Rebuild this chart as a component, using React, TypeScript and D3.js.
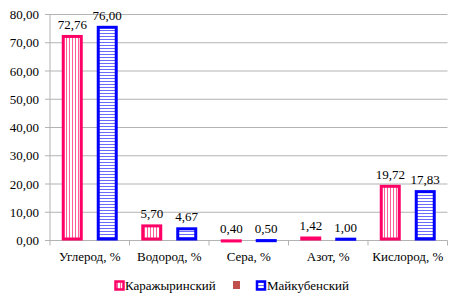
import React from "react";
import * as d3 from "d3";

const categories = ["Углерод, %", "Водород, %", "Сера, %", "Азот, %", "Кислород, %"];
const karazhyra = [72.76, 5.7, 0.4, 1.42, 19.72];
const maikuben = [76.0, 4.67, 0.5, 1.0, 17.83];
const yTicks = [0, 10, 20, 30, 40, 50, 60, 70, 80];
const seriesNames = ["Каражыринский", "", "Майкубенский"];

const W = 463, H = 304;
const left = 50, right = 447.5, top = 14.5, bottom = 240.5;
const font = "Liberation Serif";
const fmt = (v: number) => v.toFixed(2).replace(".", ",");

export default function App() {
  const x0 = d3.scaleBand<string>().domain(categories).range([left, right]);
  const y = d3.scaleLinear().domain([0, 80]).range([bottom, top]);
  const inner = d3.scaleBand<string>().domain(["a", "b"]).range([0, x0.bandwidth()]).paddingInner(0.4).paddingOuter(0.336);
  const series = [
    { name: "a", values: karazhyra, stroke: "#FF0066", fill: "url(#pinkHatch)" },
    { name: "b", values: maikuben, stroke: "#0000FF", fill: "url(#blueHatch)" },
  ];
  const bw = inner.bandwidth();
  return (
    <svg width={W} height={H} style={{ position: "absolute", left: 0, top: 0, background: "#fff" }}>
      <defs>
        <pattern id="pinkHatch" width={3} height={3} patternUnits="userSpaceOnUse">
          <rect width={3} height={3} fill="#fff" />
          <rect x={0} width={1} height={3} fill="#FF5C99" />
        </pattern>
        <pattern id="blueHatch" width={3} height={3} patternUnits="userSpaceOnUse">
          <rect width={3} height={3} fill="#fff" />
          <rect y={0} width={3} height={1} fill="#6A6AFF" />
        </pattern>
      </defs>
      {yTicks.map((t) => (
        <g key={t}>
          {t > 0 && <line x1={left} x2={right} y1={y(t)} y2={y(t)} stroke="#B3B3B3" strokeWidth={1} />}
          <line x1={left - 5} x2={left} y1={y(t)} y2={y(t)} stroke="#B3B3B3" />
          <text x={39} y={y(t) + 4.5} textAnchor="end" fontFamily={font} fontSize={13} fill="#000">{fmt(t)}</text>
        </g>
      ))}
      <line x1={left} x2={left} y1={top} y2={bottom} stroke="#B3B3B3" />
      <line x1={left} x2={right} y1={bottom} y2={bottom} stroke="#B3B3B3" />
      {d3.range(categories.length + 1).map((i) => {
        const xx = left + i * x0.step();
        return <line key={i} x1={xx} x2={xx} y1={bottom} y2={bottom + 5} stroke="#B3B3B3" />;
      })}
      {categories.map((c, i) => (
        <g key={c}>
          {series.map((s) => {
            const v = s.values[i];
            const bx = (x0(c) as number) + (inner(s.name) as number);
            const by = y(v);
            const h = bottom - by;
            return (
              <g key={s.name}>
                <rect x={bx + 1.5} y={by + 1.5} width={bw - 3} height={Math.max(h - 3, 0)} fill={s.fill} />
                <rect x={bx + 1.5} y={by + 1.5} width={bw - 3} height={Math.max(h - 3, 0.1)} fill="none" stroke={s.stroke} strokeWidth={3} />
                <text x={bx + bw / 2} y={by - 6} textAnchor="middle" fontFamily={font} fontSize={13} fill="#000">{fmt(v)}</text>
              </g>
            );
          })}
          <text x={(x0(c) as number) + x0.bandwidth() / 2} y={261} textAnchor="middle" fontFamily={font} fontSize={13} fill="#000">{c}</text>
        </g>
      ))}
      <g>
        <rect x={115.5} y={281.5} width={8} height={8} fill="url(#pinkHatch)" stroke="#FF0066" strokeWidth={2.5} />
        <text x={125} y={289.5} fontFamily={font} fontSize={13} fill="#000">{seriesNames[0]}</text>
        <rect x={233} y={281} width={7} height={8} fill="#C0504D" />
        <rect x={257} y={281.5} width={8} height={8} fill="url(#blueHatch)" stroke="#0000FF" strokeWidth={2.5} />
        <text x={267} y={289.5} fontFamily={font} fontSize={13} fill="#000">{seriesNames[2]}</text>
      </g>
    </svg>
  );
}
